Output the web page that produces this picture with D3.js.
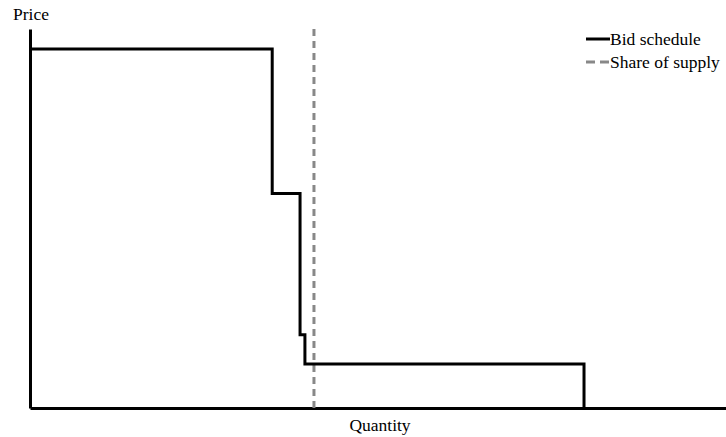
<!DOCTYPE html>
<meta charset="utf-8">
<style>

body {
  margin: 0;
  background: #fff;
}

svg text {
  font-family: "Liberation Serif", "Times New Roman", Times, serif;
  font-size: 17.5px;
  fill: #000;
}

.axis path {
  stroke: #000;
  stroke-width: 3px;
}

.bid {
  fill: none;
  stroke: #000;
  stroke-width: 3px;
}

.share {
  fill: none;
  stroke: #888;
  stroke-width: 3px;
  stroke-dasharray: 7,5;
}

</style>
<body>
<script src="https://cdnjs.cloudflare.com/ajax/libs/d3/7.8.5/d3.min.js"></script>
<script>

// bid schedule: quantity where each step starts, and its price
var bidQuantity = [0, 34.8, 38.8, 39.5, 79.6],
	bidPrice = [94.7, 56.6, 19.3, 11.6, 0],
	shareOfSupply = 40.8,
	seriesNames = ["Bid schedule", "Share of supply"];

var width = 726,
	height = 437,
	margin = {top: 29, right: 0, bottom: 29, left: 30};

var svg = d3.select("body").append("svg")
	.attr("width", width)
	.attr("height", height);

var x = d3.scaleLinear()
	.domain([0, 100])
	.range([margin.left, width - margin.right]);

var y = d3.scaleLinear()
	.domain([0, 100])
	.range([height - margin.bottom, margin.top]);

// axes without ticks, just the lines
svg.append("g")
	.attr("class", "axis")
	.attr("transform", "translate(0," + y(0) + ")")
	.call(d3.axisBottom(x).ticks(0).tickSizeOuter(0));

svg.append("g")
	.attr("class", "axis")
	.attr("transform", "translate(" + x(0) + ",0)")
	.call(d3.axisLeft(y).ticks(0).tickSizeOuter(0));

// share of supply
svg.append("line")
	.attr("class", "share")
	.attr("x1", x(shareOfSupply))
	.attr("x2", x(shareOfSupply))
	.attr("y1", y(100))
	.attr("y2", y(0));

// bid schedule as a step line
var points = bidQuantity.map(function(q, i) { return [q, bidPrice[i]]; });

var line = d3.line()
	.x(function(d) { return x(d[0]); })
	.y(function(d) { return y(d[1]); })
	.curve(d3.curveStepAfter);

svg.append("path")
	.attr("class", "bid")
	.attr("d", line(points));

// axis titles
svg.append("text")
	.attr("x", 13)
	.attr("y", 20)
	.text("Price");

svg.append("text")
	.attr("x", 380)
	.attr("y", 431)
	.attr("text-anchor", "middle")
	.text("Quantity");

// legend
var legend = svg.selectAll(".legend")
	.data(seriesNames)
	.enter().append("g")
	.attr("class", "legend")
	.attr("transform", function(d, i) { return "translate(586," + (39 + i * 23) + ")"; });

legend.append("line")
	.attr("class", function(d, i) { return i ? "share" : "bid"; })
	.attr("x1", 0)
	.attr("x2", 24)
	.style("stroke-dasharray", function(d, i) { return i ? "9,5" : null; });

legend.append("text")
	.attr("x", 24)
	.attr("dy", "0.32em")
	.text(function(d) { return d; });

</script>
</body>
</html>
